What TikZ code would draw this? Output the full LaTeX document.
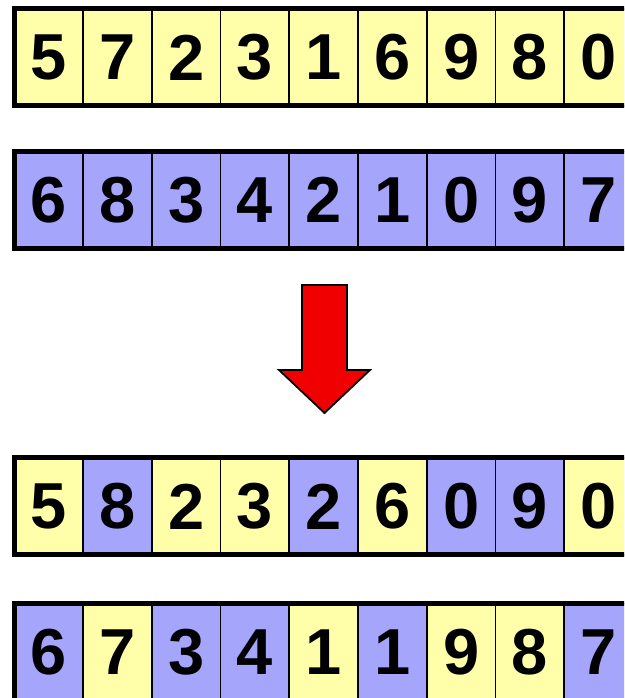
\documentclass[tikz,border=0pt]{standalone}
\usepackage{fontspec}
\setmainfont{Liberation Sans}
\usepackage{xcolor}
\usepackage{tikz}
\usetikzlibrary{positioning}

\definecolor{cellyellow}{RGB}{255,255,170}
\definecolor{cellblue}{RGB}{165,165,252}
\definecolor{arrowred}{RGB}{240,0,0}

\tikzset{
    cell/.style={rectangle, draw, line width=1.6pt, minimum width=68.75pt, minimum height=97pt, inner sep=0pt, outer sep=0pt, font=\fontsize{65}{65}\selectfont\bfseries},
    Y/.style={cell, fill=cellyellow},
    B/.style={cell, fill=cellblue},
    frame/.style={line width=5pt}
}

\begin{document}
\begin{tikzpicture}[x=1pt, y=1pt]
    \clip (0,0) rectangle (624,698);
    \fill[white] (0,0) rectangle (624,698);

    % parent 1
    \foreach \d/\c [count=\i] in {5/Y,7/Y,2/Y,3/Y,1/Y,6/Y,9/Y,8/Y,0/Y}
        \node[\c] (pa\i) at (48.6+68.75*\i-68.75, 640.5) {\d};
    % parent 2
    \foreach \d/\c [count=\i] in {6/B,8/B,3/B,4/B,2/B,1/B,0/B,9/B,7/B}
        \node[\c] (pb\i) at (48.6+68.75*\i-68.75, 498) {\d};
    % child 1
    \foreach \d/\c [count=\i] in {5/Y,8/B,2/Y,3/Y,2/B,6/Y,0/B,9/B,0/Y}
        \node[\c] (ca\i) at (48.6+68.75*\i-68.75, 191.5) {\d};
    % child 2
    \foreach \d/\c [count=\i] in {6/B,7/Y,3/B,4/B,1/Y,1/B,9/Y,8/Y,7/B}
        \node[\c] (cb\i) at (48.6+68.75*\i-68.75, 46) {\d};

    \draw[frame] (pa1.north west) rectangle (pa9.south east);
    \draw[frame] (pb1.north west) rectangle (pb9.south east);
    \draw[frame] (ca1.north west) rectangle (ca9.south east);
    \draw[frame] (cb1.north west) rectangle (cb9.south east);

    % arrow
    \draw[fill=arrowred, line width=1.8pt, line join=miter]
        (302,413) -- (347,413) -- (347,328) -- (370,328) -- (324.5,285)
        -- (279,328) -- (302,328) -- cycle;
\end{tikzpicture}
\end{document}
